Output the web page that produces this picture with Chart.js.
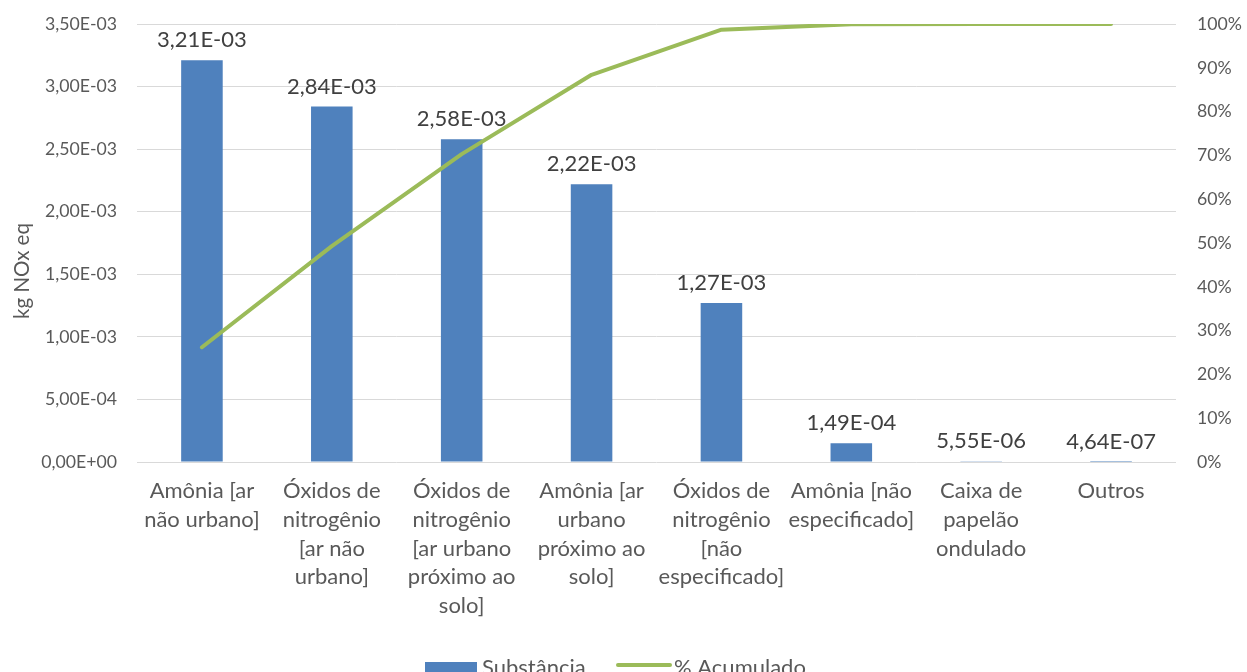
<!DOCTYPE html>
<html lang="pt">
<head>
    <meta charset="UTF-8">
    <title>Substância - kg NOx eq</title>
    <style>
        html, body { margin: 0; padding: 0; background: #fff; }
        #wrap { width: 1247px; height: 672px; position: relative; }
    </style>
</head>
<body>
<div id="wrap"><canvas id="paretoChart"></canvas></div>

<script src="https://cdn.jsdelivr.net/npm/chart.js"></script>
<script>
const categorias = [
    ['Amônia [ar', 'não urbano]'],
    ['Óxidos de', 'nitrogênio', '[ar não', 'urbano]'],
    ['Óxidos de', 'nitrogênio', '[ar urbano', 'próximo ao', 'solo]'],
    ['Amônia [ar', 'urbano', 'próximo ao', 'solo]'],
    ['Óxidos de', 'nitrogênio', '[não', 'especificado]'],
    ['Amônia [não', 'especificado]'],
    ['Caixa de', 'papelão', 'ondulado'],
    ['Outros']
];
const substancia = [3.21e-3, 2.84e-3, 2.58e-3, 2.22e-3, 1.27e-3, 1.49e-4, 5.55e-6, 4.64e-7];
const acumulado = [26.2, 49.3, 70.3, 88.4, 98.7, 99.95, 100, 100];

const AZUL = '#4F81BD';
const VERDE = '#9BBB59';
const CINZA = '#595959';
const FONTE = 'Lato, "Liberation Sans", sans-serif';

// 3.21e-3 -> "3,21E-03"
function notacao(v) {
    const [m, e] = v.toExponential(2).split('e');
    const n = parseInt(e, 10);
    const exp = (n < 0 ? '-' : '+') + String(Math.abs(n)).padStart(2, '0');
    return m.replace('.', ',') + 'E' + exp;
}

// fixed axis widths, no extra room above/below the value axes
function larguraFixa(w) {
    return axis => {
        axis.width = w;
        axis.paddingTop = 0;
        axis.paddingBottom = 0;
    };
}

// value labels above the bars
const rotulos = {
    id: 'rotulos',
    afterDatasetsDraw(chart) {
        const ctx = chart.ctx;
        const meta = chart.getDatasetMeta(1);
        ctx.save();
        ctx.font = '22px ' + FONTE;
        ctx.fillStyle = '#404040';
        ctx.textAlign = 'center';
        ctx.textBaseline = 'middle';
        meta.data.forEach((bar, i) => {
            ctx.fillText(notacao(substancia[i]), bar.x, bar.y - 20);
        });
        ctx.restore();
    }
};

// axis title and legend row
const extras = {
    id: 'extras',
    afterDraw(chart) {
        const ctx = chart.ctx;
        ctx.save();
        ctx.fillStyle = CINZA;
        ctx.font = '20.5px ' + FONTE;
        ctx.textAlign = 'center';
        ctx.textBaseline = 'middle';
        ctx.translate(22, 271);
        ctx.rotate(-Math.PI / 2);
        ctx.fillText('kg NOx eq', 0, 0);
        ctx.restore();

        ctx.save();
        ctx.font = '22px ' + FONTE;
        ctx.textBaseline = 'middle';
        ctx.fillStyle = AZUL;
        ctx.fillRect(425, 662, 52, 13);
        ctx.fillStyle = CINZA;
        ctx.fillText('Substância', 482, 668);
        ctx.strokeStyle = VERDE;
        ctx.lineWidth = 4;
        ctx.lineCap = 'round';
        ctx.beginPath();
        ctx.moveTo(618, 665);
        ctx.lineTo(670, 665);
        ctx.stroke();
        ctx.fillText('% Acumulado', 674, 668);
        ctx.restore();
    }
};

new Chart(document.getElementById('paretoChart'), {
    data: {
        labels: categorias,
        datasets: [
            {
                type: 'line',
                label: '% Acumulado',
                data: acumulado,
                yAxisID: 'y2',
                borderColor: VERDE,
                borderWidth: 4,
                borderCapStyle: 'round',
                borderJoinStyle: 'round',
                pointRadius: 0,
                tension: 0,
                order: 0
            },
            {
                type: 'bar',
                label: 'Substância',
                data: substancia,
                yAxisID: 'y',
                backgroundColor: AZUL,
                barPercentage: 0.32,
                categoryPercentage: 1,
                order: 1
            }
        ]
    },
    options: {
        responsive: true,
        maintainAspectRatio: false,
        animation: false,
        layout: { padding: { top: 24, left: 0, right: 0, bottom: 0 } },
        plugins: {
            legend: { display: false },
            tooltip: { enabled: false }
        },
        scales: {
            x: {
                grid: { display: false, drawTicks: false },
                border: { display: false },
                ticks: {
                    color: CINZA,
                    font: { family: FONTE, size: 22, lineHeight: 1.3 },
                    padding: 15,
                    maxRotation: 0,
                    autoSkip: false
                },
                afterFit(axis) { axis.height = 210; }
            },
            y: {
                position: 'left',
                min: 0,
                max: 0.0035,
                grid: { color: '#d9d9d9', lineWidth: 1, drawTicks: false },
                border: { display: false },
                ticks: {
                    stepSize: 0.0005,
                    color: CINZA,
                    font: { family: FONTE, size: 17.7 },
                    padding: 20,
                    callback: v => notacao(v)
                },
                afterFit: larguraFixa(137)
            },
            y2: {
                position: 'right',
                min: 0,
                max: 100,
                grid: { display: false, drawTicks: false },
                border: { display: false },
                ticks: {
                    stepSize: 10,
                    color: CINZA,
                    font: { family: FONTE, size: 17.7 },
                    padding: 21,
                    callback: v => v + '%'
                },
                afterFit: larguraFixa(71)
            }
        }
    },
    plugins: [rotulos, extras]
});
</script>
</body>
</html>
